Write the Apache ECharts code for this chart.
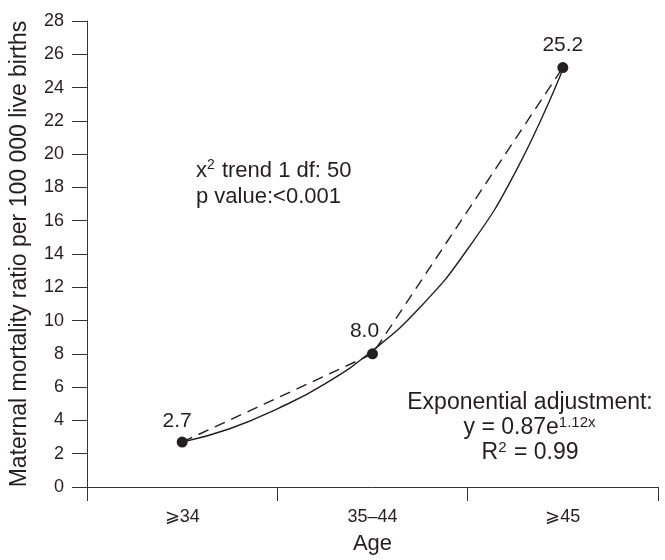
<!DOCTYPE html>
<html>
<head>
<meta charset="utf-8">
<script src="https://cdn.jsdelivr.net/npm/echarts@6/dist/echarts.min.js"></script>
<style>html,body{margin:0;padding:0;background:#fff}#c{width:665px;height:560px}</style>
</head>
<body>
<div id="c"></div>
<script>
// Data
var categories = ['\u2a7e34', '35\u201344', '\u2a7e45'];
var observed = [2.7, 8.0, 25.2];
// Exponential fit curve (x = category position 1..3)
var fitX = [1.0, 1.25, 1.5, 1.75, 2.0, 2.25, 2.5, 2.75, 3.0];
var fitY = [2.7, 3.5, 4.7, 6.2, 8.2, 10.8, 14.3, 18.9, 25.1];
var yTicks = [0, 28, 2]; // min, max, interval

var FONT = '"Liberation Sans", Arial, Helvetica, sans-serif';
var INK = '#231f20';
var chart = echarts.init(document.getElementById('c'), null, {renderer: 'canvas'});
var labelOffsets = [[-5, 1], [-8, -1], [0, 0]];

var option = {
  animation: false,
  backgroundColor: '#fff',
  textStyle: {fontFamily: FONT, color: INK},
  grid: {left: 86, right: 7, top: 21, bottom: 69, containLabel: false},
  xAxis: [{
    type: 'category',
    data: categories,
    boundaryGap: true,
    name: 'Age',
    nameLocation: 'middle',
    nameGap: 46,
    nameTextStyle: {fontFamily: FONT, fontSize: 22, color: INK},
    axisLine: {lineStyle: {color: '#333', width: 1}},
    axisTick: {show: true, length: 14, lineStyle: {color: '#333'}, alignWithLabel: false},
    axisLabel: {fontFamily: FONT, fontSize: 18, color: INK, margin: 21},
    splitLine: {show: false}
  }, {
    type: 'value', min: 0.5, max: 3.5, show: false
  }],
  yAxis: {
    type: 'value',
    min: yTicks[0], max: yTicks[1], interval: yTicks[2],
    name: 'Maternal mortality ratio per 100 000 live births',
    nameLocation: 'middle',
    nameGap: 56,
    nameTextStyle: {fontFamily: FONT, fontSize: 23, color: INK},
    axisLine: {show: true, lineStyle: {color: '#333', width: 1}},
    axisTick: {show: true, length: 15, lineStyle: {color: '#333'}},
    axisLabel: {fontFamily: FONT, fontSize: 18, color: INK, margin: 23},
    splitLine: {show: false}
  },
  series: [{
    type: 'line',
    xAxisIndex: 1,
    data: fitX.map(function (x, i) { return [x, fitY[i]]; }),
    smooth: true,
    showSymbol: false,
    lineStyle: {color: INK, width: 1.4, type: 'solid'},
    z: 2
  }, {
    type: 'line',
    xAxisIndex: 0,
    data: observed.map(function (v, i) {
      return {value: v, label: {offset: labelOffsets[i]}};
    }),
    symbol: 'circle',
    symbolSize: 11,
    itemStyle: {color: INK},
    lineStyle: {color: INK, width: 1.4, type: [11, 7]},
    label: {
      show: true, position: 'top', distance: 6,
      fontFamily: FONT, fontSize: 21, color: INK,
      formatter: function (p) { return p.value.toFixed(1); }
    },
    z: 3
  }],
  graphic: [{
    type: 'text', left: 196, top: 158,
    style: {
      text: 'x{sup|2} trend 1 df: 50\np value:<0.001',
      fontFamily: FONT, fontSize: 22, fill: INK, lineHeight: 26,
      rich: {sup: {fontSize: 14, verticalAlign: 'top', lineHeight: 26, padding: [0, 1, 9, 0], fontFamily: FONT, fill: INK}}
    }
  }, {
    type: 'text', x: 530, y: 390,
    style: {
      text: 'Exponential adjustment:\ny = 0.87e{sup|1.12x}\nR{sup|2} = 0.99',
      align: 'center',
      fontFamily: FONT, fontSize: 23, fill: INK, lineHeight: 25,
      rich: {sup: {fontSize: 15, verticalAlign: 'top', lineHeight: 25, padding: [0, 1, 9, 0], fontFamily: FONT, fill: INK}}
    }
  }]
};
chart.setOption(option);
</script>
</body>
</html>
